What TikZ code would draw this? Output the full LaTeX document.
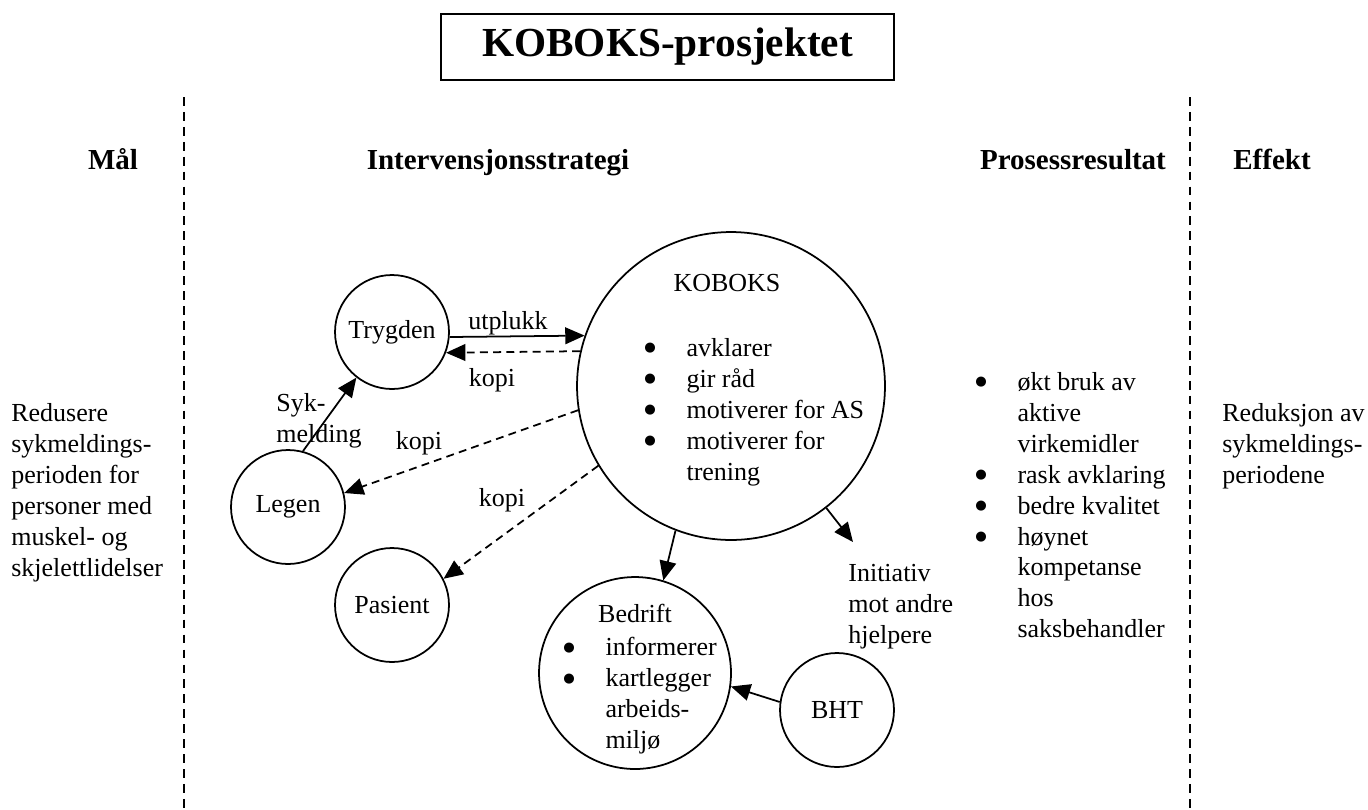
\documentclass[tikz,border=0pt]{standalone}
\usepackage{fontspec}
\setmainfont{Liberation Serif}
\newfontfamily\dejavu{DejaVu Sans}
\usetikzlibrary{arrows.meta,calc}
\newcommand{\kbul}{\makebox[24pt][l]{\raisebox{2.6pt}{\dejavu\fontsize{7.5}{8}\selectfont ●}}}
\newcommand{\kind}{\hspace*{24pt}}
\begin{document}
\begin{tikzpicture}[x=0.02cm,y=-0.02cm,
  body/.style={font=\fontsize{14.8}{17.6}\selectfont, inner sep=0pt, align=left},
  head/.style={font=\fontsize{16.5}{19}\selectfont\bfseries, inner sep=0pt, anchor=base},
  circ/.style={circle, draw, line width=1pt, inner sep=0pt, minimum size=#1, font=\fontsize{14.8}{17.6}\selectfont},
  divider/.style={line width=0.7pt, dash pattern=on 5pt off 3.5pt},
  arr/.style={line width=1pt, -{Triangle[length=11pt,width=9.5pt]}},
  darr/.style={arr, dash pattern=on 4.5pt off 3pt},
  lab/.style={font=\fontsize{14.8}{17.6}\selectfont, inner sep=0pt}
]
\useasboundingbox[fill=white] (0,0) rectangle (1368,809);

% title
\node[draw, line width=1pt, minimum width=9.06cm, minimum height=1.32cm, inner sep=0pt,
      font=\fontsize{23.5}{27}\selectfont\bfseries] (title) at (667.5,47) {KOBOKS-prosjektet};

% dividers
\coordinate (d1top) at (184,97);
\coordinate (d1bot) at (184,809);
\coordinate (d2top) at (1190,97);
\coordinate (d2bot) at (1190,809);
\draw[divider] (d1top) -- (d1bot);
\draw[divider] (d2top) -- (d2bot);

% headings
\node[head] (hmal) at (113,169) {Mål};
\node[head] (hint) at (498,169) {Intervensjonsstrategi};
\node[head] (hpro) at (1073,169) {Prosessresultat};
\node[head] (heff) at (1272,169) {Effekt};

% side texts
\node[body, anchor=north west] (maltxt) at (11,403) {Redusere\\sykmeldings-\\perioden for\\personer med\\muskel- og\\skjelettlidelser};
\node[body, anchor=north west] (efftxt) at (1222,403) {Reduksjon av\\sykmeldings-\\periodene};
\node[body, anchor=north west] (protxt) at (975,372) {\kbul økt bruk av\\\kind aktive\\\kind virkemidler\\\kbul rask avklaring\\\kbul bedre kvalitet\\\kbul høynet\\\kind kompetanse\\\kind hos\\\kind saksbehandler};

% circles
\node[circ=6.16cm] (kob) at (731,386) {};
\node[circ=2.28cm] (tryg) at (392,332) {Trygden};
\node[circ=2.28cm] (legen) at (288,507) {Legen};
\node[circ=2.28cm] (pas) at (392,605) {Pasient};
\node[circ=3.84cm] (bed) at (635,673) {};
\node[circ=2.28cm] (bht) at (837,710) {BHT};

% texts inside big circles
\node[lab] (kobt) at (727,283) {KOBOKS};
\node[body, anchor=north west] (koblist) at (644,338) {\kbul avklarer\\\kbul gir råd\\\kbul motiverer for AS\\\kbul motiverer for\\\kind trening};
\node[lab] (bedt) at (635,613) {Bedrift};
\node[body, anchor=north west] (bedlist) at (563,637) {\kbul informerer\\\kbul kartlegger\\\kind arbeids-\\\kind miljø};
\node[body, anchor=north west] (init) at (848,564) {Initiativ\\mot andre\\hjelpere};

% connectors
\draw[arr] (tryg.east |- 0,337) -- (kob.161.5);
\node[lab] (lutp) at (508,323) {utplukk};
\draw[darr] (kob.167.6) -- (tryg.-21);
\node[lab] (lkopi1) at (492,380) {kopi};

\draw[arr] (legen.75) -- (tryg.232);
\node[body, anchor=north west] (lsyk) at (276,393) {Syk-\\melding};

\draw[darr] (kob.189.7) -- (legen.14.3);
\node[lab] (lkopi2) at (419,443) {kopi};

\draw[darr] (kob.211) -- (pas.27.9);
\node[lab] (lkopi3) at (502,500) {kopi};

\draw[arr] (kob.249) -- (bed.73.2);
\draw[arr] (kob.308.7) -- ([xshift=5*0.02cm, yshift=0.44cm]init.north west);
\draw[arr] (bht.172) -- (bed.-8.7);
\end{tikzpicture}
\end{document}
